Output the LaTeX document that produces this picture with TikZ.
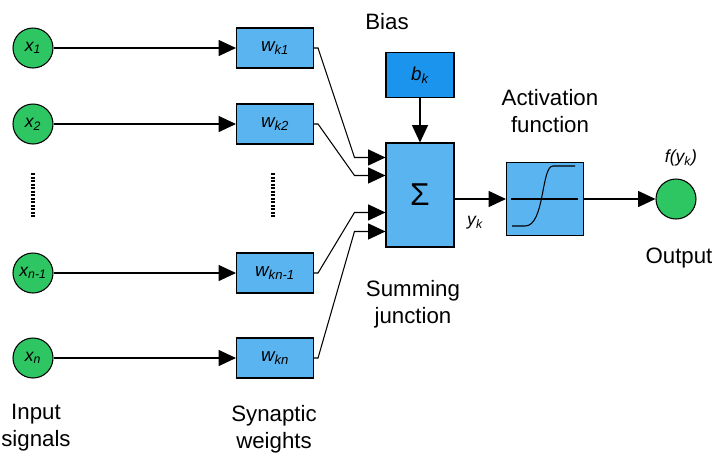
\documentclass[tikz,border=0pt]{standalone}
\usepackage{fontspec}
\setmainfont{Liberation Sans}
\usetikzlibrary{arrows.meta,calc}
\definecolor{wblue}{HTML}{5AB4F0}
\definecolor{bblue}{HTML}{1A94EC}
\definecolor{sgreen}{HTML}{2DC662}
\tikzset{
  every signal/.style={circle, draw, fill=sgreen, minimum size=1.2cm, inner sep=0pt,
    font=\fontsize{15}{15}\selectfont\itshape},
  weight box/.style={rectangle, draw, fill=wblue, minimum width=2.31cm, minimum height=1.2cm,
    inner sep=0pt, font=\fontsize{16}{16}\selectfont\itshape},
  caption/.style={align=center, font=\fontsize{19}{23}\selectfont},
  small caption/.style={font=\fontsize{15}{15}\selectfont\itshape},
  ellipsis line/.style={line width=3.5pt, dash pattern=on 2pt off 1pt}
}
\begin{document}
\begin{tikzpicture}[x=0.03cm, y=-0.03cm, line width=0.9pt,
  >={Triangle[length=0.52cm, width=0.48cm]}]
\useasboundingbox (0,0) rectangle (715,462);
% inputs and synaptic weights
\foreach \l/\p [count=\i] in {1/48, 2/124, n-1/273, n/358} {
  \node [every signal] (input-\i) at (33,\p) {x\textsubscript{\l}};
  \node [weight box] (weight-\i) at (275,\p) {w\textsubscript{k\l}};
  \draw [->] (input-\i) -- (weight-\i);
}
\draw [ellipsis line] (33,173) -- (33,217);
\draw [ellipsis line] (273,173) -- (273,217);
% summing junction, bias, activation, output
\node [weight box, minimum width=2.04cm, minimum height=3.12cm,
  font=\fontsize{27}{27}\selectfont] (sum) at (420,195) {Σ};
\node [weight box, fill=bblue, minimum width=2.04cm, minimum height=1.35cm] (bias) at (420,75) {b\textsubscript{k}};
\node [weight box, minimum height=2.19cm] (act) at (545,199) {};
\node [every signal] (output) at (676,199) {};
\foreach \d [count=\i] in {15, 33, 70, 89} {
  \coordinate (sum-in-\i) at ($(sum.north west)+(0,\d)$);
  \draw [->] (weight-\i.east) -- ++(4,0) -- ($(sum-in-\i)+(-31,0)$) -- (sum-in-\i);
}
\draw [->] (bias) -- (sum);
\draw [->] (sum.east |- act.west) -- (act.west);
\draw [->] (act) -- (output);
\draw ($(act.west)+(5,0)$) -- ($(act.east)+(-6,0)$);
\draw ($(act)+(-33,27)$) -- ($(act)+(-20,27)$)
  .. controls ($(act)+(0,27)$) and ($(act)+(-4,-33)$) .. ($(act)+(8,-33)$) -- ($(act)+(30,-33)$);
% captions
\node [caption] (bias-label) at (387,22) {Bias};
\node [caption] (act-label) at (550,111) {Activation\\function};
\node [caption] (sum-label) at (413,304) {Summing\\junction};
\node [caption] (out-label) at (679,258) {Output};
\node [caption] (in-label) at (36,428) {Input\\signals};
\node [caption] (syn-label) at (274,429) {Synaptic\\weights};
\node [small caption] (yk-label) at (475,223) {y\textsubscript{k}};
\node [small caption] (fyk-label) at (681,158) {f(y\textsubscript{k})};
\end{tikzpicture}
\end{document}
